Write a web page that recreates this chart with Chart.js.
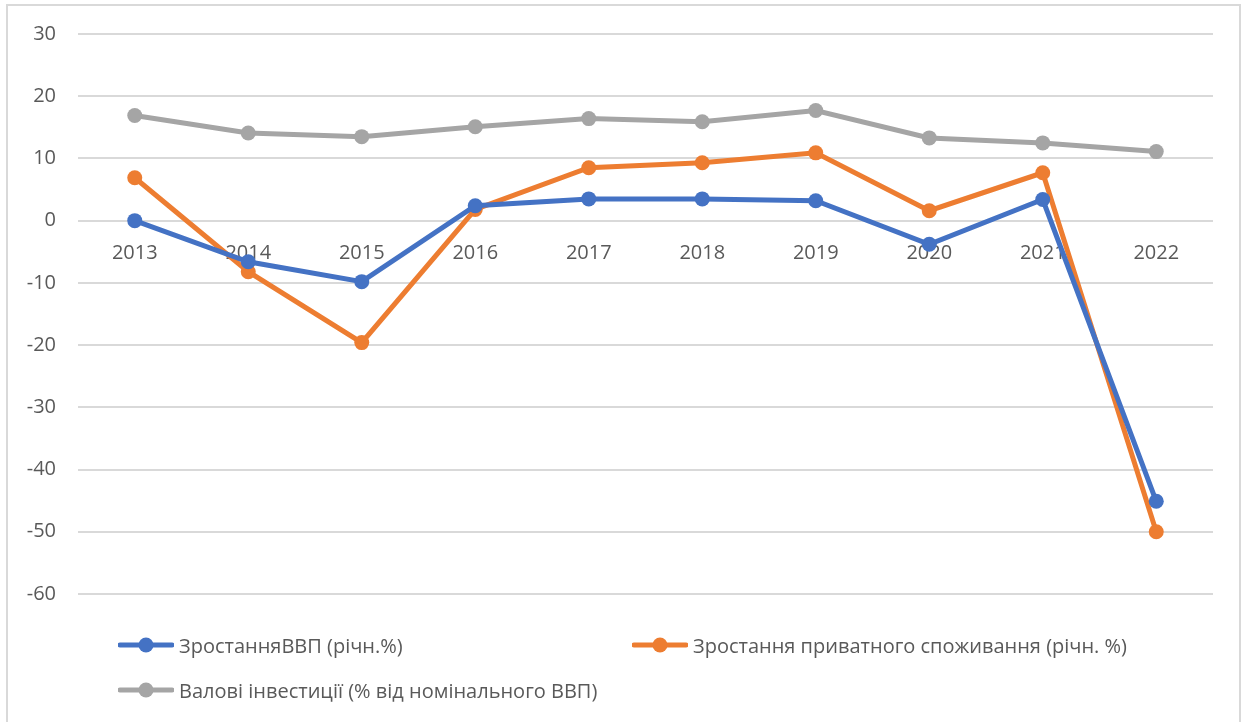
<!DOCTYPE html>
<html lang="uk">
<head>
<meta charset="UTF-8">
<title>ВВП, споживання та інвестиції</title>
<script src="https://cdn.jsdelivr.net/npm/chart.js"></script>
<style>
  body { margin: 0; background: #fff; font-family: "Open Sans", sans-serif; }
  .frame {
    position: absolute; left: 6px; top: 4px; width: 1235px; height: 730px;
    border: 2px solid #d9d9d9; box-sizing: border-box;
  }
  .wrap { position: absolute; left: 0; top: 0; width: 1246px; height: 628px; }
  .legend { position: absolute; left: 0; top: 0; width: 1246px; height: 722px; pointer-events: none; }
  .item { position: absolute; display: flex; align-items: center; font-size: 20px; color: #595959; white-space: nowrap; }
  .item svg { margin-right: 5px; }
</style>
</head>
<body>
<div class="frame"></div>
<div class="wrap"><canvas id="gdpChart"></canvas></div>
<div class="legend" id="legend"></div>
<script>
  // Дані
  const years = ['2013', '2014', '2015', '2016', '2017', '2018', '2019', '2020', '2021', '2022'];
  const gdpGrowth = [0, -6.6, -9.8, 2.4, 3.5, 3.5, 3.2, -3.8, 3.4, -45.1];
  const consumptionGrowth = [6.9, -8.2, -19.6, 1.8, 8.5, 9.3, 10.9, 1.6, 7.7, -50];
  const grossInvestment = [16.9, 14.1, 13.5, 15.1, 16.4, 15.9, 17.7, 13.3, 12.5, 11.1];
  const seriesNames = [
    'ЗростанняВВП (річн.%)',
    'Зростання приватного споживання (річн. %)',
    'Валові інвестиції (% від номінального ВВП)'
  ];
  const seriesColors = ['#4472C4', '#ED7D31', '#A5A5A5'];

  function makeSet(label, data, color) {
    return {
      label: label,
      data: data,
      borderColor: color,
      backgroundColor: color,
      borderWidth: 5,
      pointRadius: 7.5,
      pointHoverRadius: 7.5,
      pointBorderWidth: 0,
      tension: 0
    };
  }

  const ctx = document.getElementById('gdpChart').getContext('2d');
  new Chart(ctx, {
    type: 'line',
    data: {
      labels: years,
      datasets: [
        makeSet(seriesNames[2], grossInvestment, seriesColors[2]),
        makeSet(seriesNames[0], gdpGrowth, seriesColors[0]),
        makeSet(seriesNames[1], consumptionGrowth, seriesColors[1])
      ]
    },
    options: {
      responsive: true,
      maintainAspectRatio: false,
      animation: false,
      layout: { padding: { left: 8, right: 33, top: 28, bottom: 18 } },
      plugins: {
        legend: { display: false },
        tooltip: { enabled: false }
      },
      scales: {
        x: {
          position: { y: 0 },
          offset: true,
          grid: { display: false },
          border: { display: false },
          ticks: {
            color: '#595959',
            font: { family: 'Open Sans', size: 20 },
            padding: 13,
            maxRotation: 0
          }
        },
        y: {
          min: -60,
          max: 30,
          afterFit: function (scale) { scale.width = 70; },
          grid: { color: '#d9d9d9', lineWidth: 2, drawTicks: false },
          border: { display: false },
          ticks: {
            stepSize: 10,
            color: '#595959',
            font: { family: 'Open Sans', size: 20 },
            padding: 22
          }
        }
      }
    }
  });

  // Легенда у два стовпці, як в оригіналі
  const legendPos = [
    { x: 118, y: 645, s: 0 },
    { x: 632, y: 645, s: 1 },
    { x: 118, y: 690, s: 2 }
  ];
  const legendEl = document.getElementById('legend');
  legendPos.forEach(function (p) {
    const c = seriesColors[p.s];
    const div = document.createElement('div');
    div.className = 'item';
    div.style.left = p.x + 'px';
    div.style.top = (p.y - 14) + 'px';
    div.innerHTML = '<svg width="56" height="28"><line x1="2" y1="14" x2="54" y2="14" stroke="' + c +
      '" stroke-width="5" stroke-linecap="round"/><circle cx="28" cy="14" r="7.5" fill="' + c + '"/></svg>' +
      '<span>' + seriesNames[p.s] + '</span>';
    legendEl.appendChild(div);
  });
</script>
</body>
</html>
